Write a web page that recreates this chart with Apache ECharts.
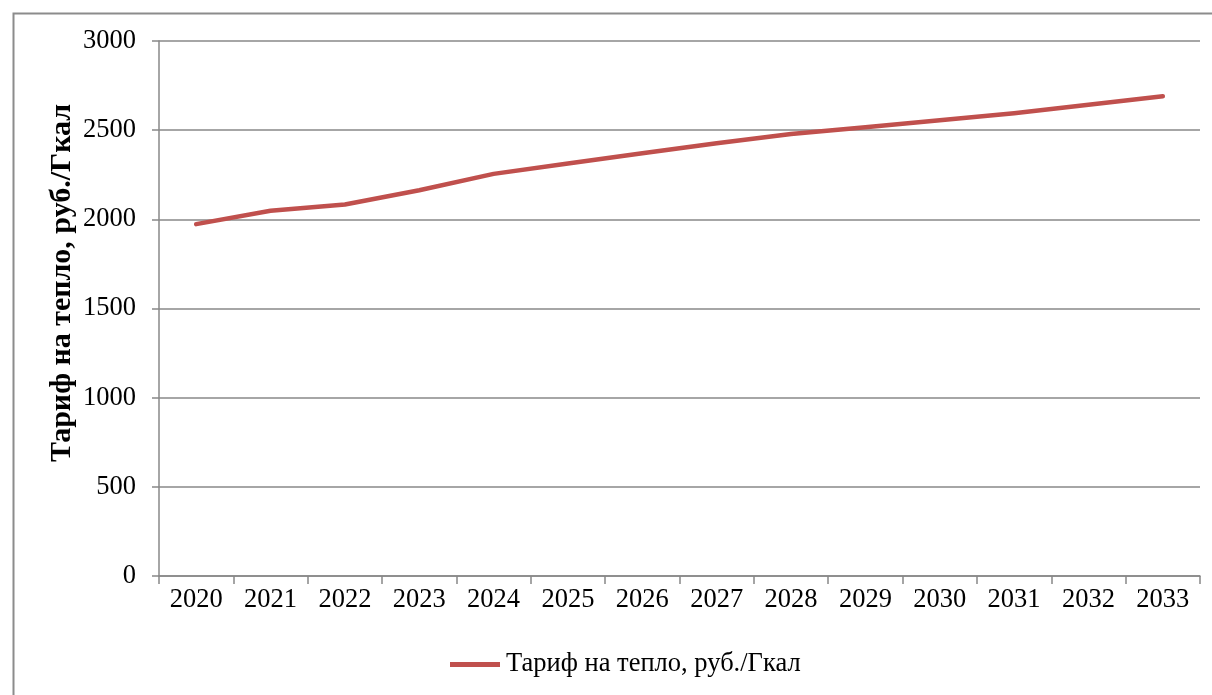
<!DOCTYPE html>
<html><head><meta charset="utf-8">
<script src="https://cdn.jsdelivr.net/npm/echarts@6/dist/echarts.min.js"></script>
<style>html,body{margin:0;padding:0;background:#fff}#c{width:1212px;height:695px}</style>
</head><body><div id="c"></div>
<script>
const years = ['2020','2021','2022','2023','2024','2025','2026','2027','2028','2029','2030','2031','2032','2033'];
const tariff = [1973, 2048, 2083, 2163, 2255, 2313, 2370, 2427, 2478, 2517, 2555, 2595, 2643, 2690];
const seriesName = 'Тариф на тепло, руб./Гкал';
const yTitle = 'Тариф на тепло, руб./Гкал';

const font = '"Liberation Serif", "DejaVu Serif", serif';
const chart = echarts.init(document.getElementById('c'), null, {renderer: 'canvas'});
chart.setOption({
  animation: false,
  backgroundColor: '#fff',
  textStyle: {fontFamily: font},
  graphic: [{
    type: 'rect', left: 11, top: 11, z: -1,
    shape: {x: 0, y: 0, width: 1230, height: 720},
    style: {fill: 'none', stroke: '#8c8c8c', lineWidth: 2}
  }, {
    type: 'text', x: 62, y: 283, rotation: Math.PI / 2,
    style: {text: yTitle, font: 'bold 30px "Liberation Serif", serif', fill: '#000',
            textAlign: 'center', textVerticalAlign: 'middle'}
  }],
  grid: {left: 159, right: 12, top: 41, bottom: 119, containLabel: false},
  legend: {
    data: [{name: seriesName, icon: 'path://M0,0 L100,0 L100,10 L0,10 Z'}],
    left: 445, top: 646,
    itemWidth: 56, itemHeight: 5, itemGap: 4,
    textStyle: {fontFamily: font, fontSize: 26.5, color: '#000', padding: [0,0,0,-2]}
  },
  xAxis: {
    type: 'category', data: years, boundaryGap: true,
    axisLine: {lineStyle: {color: '#888', width: 1.5}},
    axisTick: {show: true, length: 8, lineStyle: {color: '#888', width: 1.5}, alignWithLabel: false},
    axisLabel: {fontFamily: font, fontSize: 26.5, color: '#000', margin: 11}
  },
  yAxis: {
    type: 'value', min: 0, max: 3000, interval: 500,
    axisLine: {show: true, lineStyle: {color: '#888', width: 1.5}},
    axisTick: {show: true, length: 7, lineStyle: {color: '#888', width: 1.5}},
    splitLine: {show: true, lineStyle: {color: '#888', width: 1.5}},
    axisLabel: {fontFamily: font, fontSize: 26.5, color: '#000', margin: 23,
                formatter: function (v) { return String(v); }}
  },
  series: [{
    name: seriesName, type: 'line', data: tariff,
    smooth: false, showSymbol: false, symbol: 'none',
    lineStyle: {color: '#C0504D', width: 4.5, cap: 'round', join: 'round'},
    itemStyle: {color: '#C0504D'}
  }]
});
</script></body></html>
